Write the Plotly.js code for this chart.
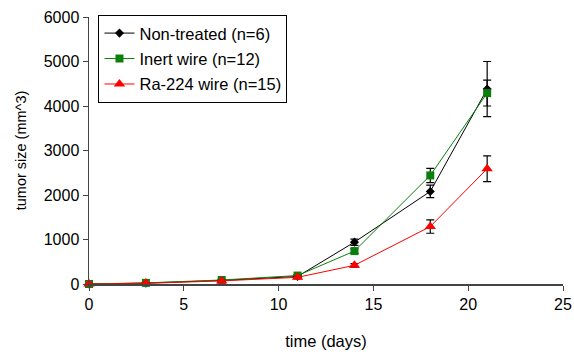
<!DOCTYPE html>
<html><head><meta charset="utf-8">
<script src="https://cdn.plot.ly/plotly-3.0.1.min.js"></script>
<style>body{margin:0;background:#fff}#chart{width:574px;height:354px}</style>
</head><body><div id="chart"></div>
<script>
const days = [0, 3, 7, 11, 14, 18, 21];
const nonTreated = [0, 20, 80, 170, 940, 2080, 4380];
const nonTreatedErr = [5, 10, 15, 25, 70, 140, 620];
const inertWire = [0, 25, 90, 190, 740, 2440, 4290];
const inertWireErr = [5, 10, 15, 25, 50, 160, 290];
const ra224Wire = [0, 15, 70, 150, 420, 1290, 2590];
const ra224WireErr = [5, 8, 12, 20, 40, 150, 290];
const names = ["Non-treated (n=6)", "Inert wire (n=12)", "Ra-224 wire (n=15)"];

const font = {family: "Liberation Sans, Arial, sans-serif", color: "#000"};
function tr(y, err, name, color, symbol, size, g) {
  return {
    x: days, y: y, name: name, type: "scatter", mode: "lines+markers",
    legendgroup: g, cliponaxis: false,
    line: {color: color, width: 1},
    marker: {color: color, symbol: symbol, size: size},
    error_y: {type: "data", array: err, visible: true, color: "#000", thickness: 1.2, width: 4}
  };
}
const data = [
  tr(nonTreated, nonTreatedErr, names[0], "#000000", "diamond", 7, "a"),
  tr(inertWire, inertWireErr, names[1], "#0a800a", "square", 8, "b"),
  tr(ra224Wire, ra224WireErr, names[2], "#ff0000", "triangle-up", 10, "c")
];
const layout = {
  width: 574, height: 354,
  margin: {l: 89, r: 11, t: 17, b: 70},
  paper_bgcolor: "#fff", plot_bgcolor: "#fff",
  font: Object.assign({size: 15}, font),
  showlegend: true,
  legend: {x: 0.02, y: 1.008, xanchor: "left", yanchor: "top",
    bordercolor: "#000", borderwidth: 1, bgcolor: "#fff",
    font: Object.assign({size: 16.5}, font), tracegroupgap: 1},
  xaxis: {range: [0, 25], dtick: 5, tick0: 0, showgrid: false, zeroline: false,
    showline: true, linecolor: "#444", linewidth: 1.5, ticks: "outside", ticklen: 5, tickcolor: "#444",
    tickfont: Object.assign({size: 16}, font),
    title: {text: "time (days)", font: Object.assign({size: 16.5}, font), standoff: 23}},
  yaxis: {range: [0, 6000], dtick: 1000, tick0: 0, showgrid: false, zeroline: false,
    showline: true, linecolor: "#444", linewidth: 1.5, ticks: "outside", ticklen: 5, tickcolor: "#444",
    tickfont: Object.assign({size: 16}, font),
    title: {text: "tumor size (mm^3)", font: Object.assign({size: 14.5}, font), standoff: 13}}
};
Plotly.newPlot("chart", data, layout, {displayModeBar: false, staticPlot: true});
</script></body></html>
